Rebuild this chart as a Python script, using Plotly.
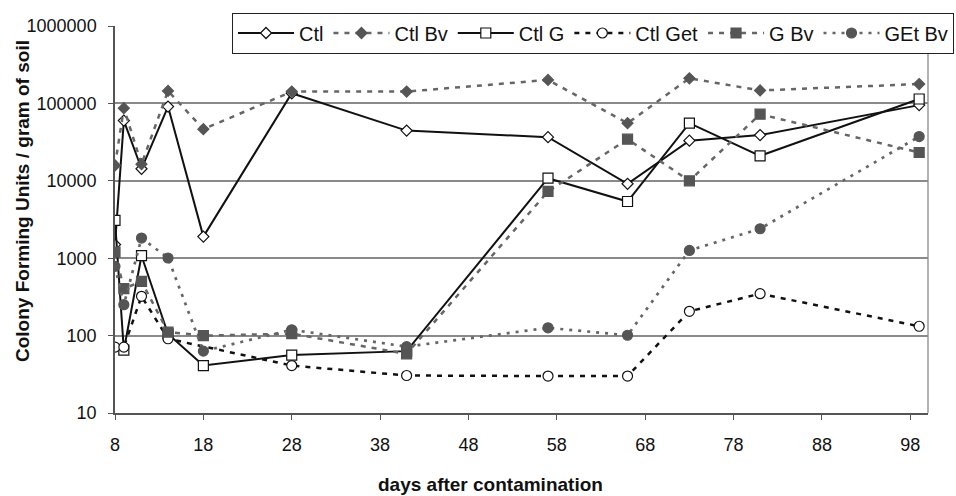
import plotly.graph_objects as go

# Sampling days after soil contamination
days = [8, 9, 11, 14, 18, 28, 41, 57, 66, 73, 81, 99]

# Colony forming units per gram of soil for each treatment
ctl = [1500, 60000, 14300, 91000, 1900, 135000, 44500, 36600, 9150, 33000, 39000, 95000]
ctl_bv = [15800, 86700, 16400, 145000, 46500, 142000, 142000, 201000, 55500, 211000, 147000, 178000]
ctl_g = [3080, 65, 1077, 105, 41, 56, 63, 10800, 5400, 55500, 21000, 114000]
ctl_get = [71, 71, 322, 91, None, 41, 30.5, 30, 30, 206, 348, 132]
g_bv = [1200, 404, 502, 111, 100, 106, 58, 7280, 34500, 10000, 72500, 23200]
get_bv = [785, 251, 1820, 1006, 63, 119, 72, 126, 101, 1260, 2400, 37300]

# Axis ticks
x_ticks = [8, 18, 28, 38, 48, 58, 68, 78, 88, 98]
y_ticks = [10, 100, 1000, 10000, 100000, 1000000]
y_tick_labels = ["10", "100", "1000", "10000", "100000", "1000000"]

FONT = "Liberation Sans, Arial, sans-serif"
BLACK = "#111111"
GRAY = "#555555"
GRAY_LINE = "#666666"

series = [
    ("Ctl", ctl, BLACK, "solid", 2, "diamond", 8.5, "white", BLACK),
    ("Ctl Bv", ctl_bv, GRAY_LINE, "5px,6px", 2.5, "diamond", 8.5, GRAY, GRAY),
    ("Ctl G", ctl_g, BLACK, "solid", 2, "square", 10, "white", BLACK),
    ("Ctl Get", ctl_get, BLACK, "5px,6px", 2.5, "circle", 10, "white", BLACK),
    ("G Bv", g_bv, GRAY_LINE, "5px,6px", 2.5, "square", 10, GRAY, GRAY),
    ("GEt Bv", get_bv, GRAY_LINE, "3px,6px", 2.7, "circle", 10, GRAY, GRAY),
]

fig = go.Figure()
for name, vals, lcol, dash, lw, sym, size, fill, edge in series:
    fig.add_trace(go.Scatter(
        x=days, y=vals, name=name, mode="lines+markers",
        connectgaps=True,
        line=dict(color=lcol, width=lw, dash=dash),
        marker=dict(symbol=sym, size=size, color=fill,
                    line=dict(color=edge, width=1.2)),
    ))

fig.update_layout(
    width=956, height=496,
    margin=dict(l=115, r=28, t=26, b=83, autoexpand=False),
    paper_bgcolor="white", plot_bgcolor="white",
    font=dict(family=FONT, size=18, color="#111111"),
    showlegend=True,
    legend=dict(
        orientation="h", xref="container", yref="container",
        x=232 / 956, xanchor="left", y=1 - 12.5 / 496, yanchor="top",
        bgcolor="white", bordercolor="#222222", borderwidth=1,
        font=dict(family=FONT, size=20, color="#111111"),
        itemwidth=56, tracegroupgap=0,
    ),
    xaxis=dict(
        range=[8, 100], tickvals=x_ticks, ticks="outside", ticklen=5,
        tickcolor="#555555", showgrid=False, zeroline=False,
        showline=True, linecolor="#555555", linewidth=1.5,
        ticklabelstandoff=10,
    ),
    yaxis=dict(
        type="log", range=[1, 6], tickvals=y_ticks, ticktext=y_tick_labels,
        ticks="outside", ticklen=5, tickcolor="#555555",
        showgrid=True, gridcolor="#8a8a8a", gridwidth=1.5,
        zeroline=False, showline=True, linecolor="#555555", linewidth=1.5,
        ticklabelstandoff=8,
    ),
    shapes=[dict(type="line", xref="paper", yref="paper", x0=1, x1=1, y0=0, y1=1,
                 line=dict(color="#999999", width=1.5), layer="below")],
    annotations=[
        dict(text="<b>days after contamination</b>", xref="paper", yref="paper",
             x=(490 - 115) / 813, y=-(484 - 413) / 387, xanchor="center", yanchor="middle",
             showarrow=False, font=dict(family=FONT, size=19, color="#111111")),
        dict(text="<b>Colony Forming Units / gram of soil</b>", xref="paper", yref="paper",
             x=-(115 - 22) / 813, y=(413 - 201) / 387, xanchor="center", yanchor="middle",
             textangle=-90, showarrow=False, font=dict(family=FONT, size=19, color="#111111")),
    ],
)

fig.write_html("out.html")
